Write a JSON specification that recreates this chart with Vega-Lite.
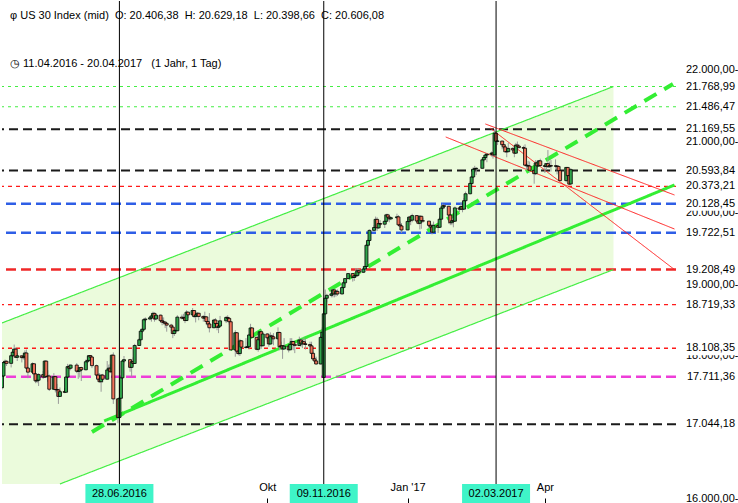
{
"$schema": "https://vega.github.io/schema/vega-lite/v6.json",
"width": 674, "height": 503,
"autosize": {"type": "pad"}, "padding": 0, "background": "white",
"config": {"view": {"stroke": null}, "font": "Liberation Sans", "scale": {"continuousPadding": 0}},
"title": {"text": "\u03c6 US 30 Index (mid) \u00a0O: 20.406,38 \u00a0H: 20.629,18 \u00a0L: 20.398,66 \u00a0C: 20.606,08", "subtitle": "\u25f7 11.04.2016 - 20.04.2017 \u00a0 (1 Jahr, 1 Tag)", "anchor": "start", "frame": "group", "orient": "top", "offset": -68, "fontSize": 11, "fontWeight": "normal", "color": "#000", "subtitleFontSize": 11, "subtitleColor": "#000", "subtitlePadding": 37, "dx": 8, "font": "Liberation Sans", "subtitleFont": "Liberation Sans"},
"datasets": {
"channel": [{"d":"2016-04-12","u":18462,"lo":16210},{"d":"2016-05-20","u":18775,"lo":16210},{"d":"2017-05-18","u":21768.99,"lo":19208.49}],
"trend": [
{"id":"cu","k":"ch","d":"2016-04-12","v":18462},{"id":"cu","k":"ch","d":"2017-05-18","v":21768.99},
{"id":"cl","k":"ch","d":"2016-05-20","v":16210},{"id":"cl","k":"ch","d":"2017-05-18","v":19208.49},
{"id":"gd","k":"gd","d":"2016-06-10","v":16937},{"id":"gd","k":"gd","d":"2017-06-26","v":21804},
{"id":"gs","k":"gs","d":"2016-06-18","v":17091},{"id":"gs","k":"gs","d":"2017-06-27","v":20392},
{"id":"r1","k":"rl","d":"2017-02-23","v":21245},{"id":"r1","k":"rl","d":"2017-06-27","v":20252},
{"id":"r2","k":"rl","d":"2017-01-28","v":21063},{"id":"r2","k":"rl","d":"2017-06-27","v":19776},
{"id":"r3","k":"rl","d":"2017-02-26","v":21189},{"id":"r3","k":"rl","d":"2017-06-27","v":19208.49}],
"levels": [{"v":21768.99,"k":"lg","lab":"21.768,99"},{"v":21486.47,"k":"lg","lab":"21.486,47"},{"v":21169.55,"k":"bk","lab":"21.169,55"},{"v":20593.84,"k":"bk","lab":"20.593,84"},{"v":20373.21,"k":"rt","lab":"20.373,21"},{"v":20128.45,"k":"bl","lab":"20.128,45"},{"v":19722.51,"k":"bl","lab":"19.722,51"},{"v":19208.49,"k":"rk","lab":"19.208,49"},{"v":18719.33,"k":"rt","lab":"18.719,33"},{"v":18108.35,"k":"rt","lab":"18.108,35"},{"v":17711.36,"k":"mg","lab":"17.711,36"},{"v":17044.18,"k":"bk","lab":"17.044,18"}],
"markers": [{"d":"2016-06-28","lab":"28.06.2016"},{"d":"2016-11-09","lab":"09.11.2016"},{"d":"2017-03-02","lab":"02.03.2017"}],
"candles": [
{"d":"2016-04-11","o":17590,"h":17660,"l":17530,"c":17556},
{"d":"2016-04-12","o":17556,"h":17740,"l":17530,"c":17721},
{"d":"2016-04-13","o":17721,"h":17930,"l":17715,"c":17908},
{"d":"2016-04-14","o":17908,"h":17950,"l":17880,"c":17926},
{"d":"2016-04-15","o":17926,"h":17940,"l":17860,"c":17897},
{"d":"2016-04-18","o":17897,"h":18020,"l":17840,"c":18004},
{"d":"2016-04-19","o":18004,"h":18100,"l":17990,"c":18053},
{"d":"2016-04-20","o":18053,"h":18160,"l":18000,"c":18096},
{"d":"2016-04-21","o":18096,"h":18120,"l":17970,"c":17982},
{"d":"2016-04-22","o":17982,"h":18040,"l":17930,"c":18003},
{"d":"2016-04-25","o":18003,"h":18010,"l":17910,"c":17977},
{"d":"2016-04-26","o":17977,"h":18030,"l":17950,"c":17991},
{"d":"2016-04-27","o":17991,"h":18080,"l":17950,"c":18042},
{"d":"2016-04-28","o":18042,"h":18090,"l":17820,"c":17831},
{"d":"2016-04-29","o":17831,"h":17850,"l":17690,"c":17774},
{"d":"2016-05-02","o":17774,"h":17910,"l":17760,"c":17891},
{"d":"2016-05-03","o":17891,"h":17895,"l":17670,"c":17750},
{"d":"2016-05-04","o":17750,"h":17760,"l":17620,"c":17651},
{"d":"2016-05-05","o":17651,"h":17740,"l":17620,"c":17661},
{"d":"2016-05-06","o":17661,"h":17760,"l":17580,"c":17740},
{"d":"2016-05-09","o":17740,"h":17790,"l":17680,"c":17705},
{"d":"2016-05-10","o":17705,"h":17940,"l":17700,"c":17928},
{"d":"2016-05-11","o":17928,"h":17940,"l":17700,"c":17711},
{"d":"2016-05-12","o":17711,"h":17800,"l":17640,"c":17720},
{"d":"2016-05-13","o":17720,"h":17740,"l":17510,"c":17535},
{"d":"2016-05-16","o":17535,"h":17760,"l":17530,"c":17711},
{"d":"2016-05-17","o":17711,"h":17720,"l":17490,"c":17530},
{"d":"2016-05-18","o":17530,"h":17610,"l":17430,"c":17526},
{"d":"2016-05-19","o":17526,"h":17540,"l":17330,"c":17435},
{"d":"2016-05-20","o":17435,"h":17560,"l":17430,"c":17501},
{"d":"2016-05-23","o":17501,"h":17550,"l":17480,"c":17493},
{"d":"2016-05-24","o":17493,"h":17720,"l":17490,"c":17706},
{"d":"2016-05-25","o":17706,"h":17890,"l":17700,"c":17851},
{"d":"2016-05-26","o":17851,"h":17880,"l":17800,"c":17829},
{"d":"2016-05-27","o":17829,"h":17880,"l":17800,"c":17873},
{"d":"2016-05-31","o":17873,"h":17900,"l":17760,"c":17787},
{"d":"2016-06-01","o":17787,"h":17810,"l":17680,"c":17790},
{"d":"2016-06-02","o":17790,"h":17840,"l":17700,"c":17838},
{"d":"2016-06-03","o":17838,"h":17850,"l":17650,"c":17807},
{"d":"2016-06-06","o":17807,"h":17950,"l":17800,"c":17920},
{"d":"2016-06-07","o":17920,"h":18000,"l":17910,"c":17938},
{"d":"2016-06-08","o":17938,"h":18010,"l":17930,"c":18005},
{"d":"2016-06-09","o":18005,"h":18010,"l":17920,"c":17985},
{"d":"2016-06-10","o":17985,"h":17990,"l":17830,"c":17865},
{"d":"2016-06-13","o":17865,"h":17880,"l":17720,"c":17733},
{"d":"2016-06-14","o":17733,"h":17760,"l":17640,"c":17675},
{"d":"2016-06-15","o":17675,"h":17760,"l":17630,"c":17640},
{"d":"2016-06-16","o":17640,"h":17740,"l":17500,"c":17733},
{"d":"2016-06-17","o":17733,"h":17750,"l":17630,"c":17675},
{"d":"2016-06-20","o":17675,"h":17930,"l":17670,"c":17805},
{"d":"2016-06-21","o":17805,"h":17880,"l":17770,"c":17830},
{"d":"2016-06-22","o":17830,"h":17890,"l":17760,"c":17780},
{"d":"2016-06-23","o":17780,"h":18020,"l":17770,"c":18011},
{"d":"2016-06-24","o":18011,"h":18050,"l":17330,"c":17400},
{"d":"2016-06-27","o":17400,"h":17410,"l":17060,"c":17140},
{"d":"2016-06-28","o":17140,"h":17420,"l":17120,"c":17409},
{"d":"2016-06-29","o":17409,"h":17710,"l":17400,"c":17695},
{"d":"2016-06-30","o":17695,"h":17940,"l":17680,"c":17930},
{"d":"2016-07-01","o":17930,"h":18000,"l":17900,"c":17949},
{"d":"2016-07-05","o":17949,"h":17960,"l":17780,"c":17841},
{"d":"2016-07-06","o":17841,"h":17940,"l":17710,"c":17919},
{"d":"2016-07-07","o":17919,"h":17980,"l":17860,"c":17895},
{"d":"2016-07-08","o":17895,"h":18170,"l":17890,"c":18147},
{"d":"2016-07-11","o":18147,"h":18250,"l":18140,"c":18227},
{"d":"2016-07-12","o":18227,"h":18380,"l":18220,"c":18348},
{"d":"2016-07-13","o":18348,"h":18390,"l":18320,"c":18373},
{"d":"2016-07-14","o":18373,"h":18530,"l":18370,"c":18507},
{"d":"2016-07-15","o":18507,"h":18540,"l":18470,"c":18517},
{"d":"2016-07-18","o":18517,"h":18560,"l":18500,"c":18534},
{"d":"2016-07-19","o":18534,"h":18570,"l":18480,"c":18560},
{"d":"2016-07-20","o":18560,"h":18620,"l":18550,"c":18596},
{"d":"2016-07-21","o":18596,"h":18610,"l":18480,"c":18518},
{"d":"2016-07-22","o":18518,"h":18590,"l":18500,"c":18571},
{"d":"2016-07-25","o":18571,"h":18580,"l":18470,"c":18494},
{"d":"2016-07-26","o":18494,"h":18540,"l":18430,"c":18474},
{"d":"2016-07-27","o":18474,"h":18540,"l":18440,"c":18473},
{"d":"2016-07-28","o":18473,"h":18490,"l":18390,"c":18456},
{"d":"2016-07-29","o":18456,"h":18470,"l":18340,"c":18432},
{"d":"2016-08-01","o":18432,"h":18450,"l":18350,"c":18404},
{"d":"2016-08-02","o":18404,"h":18420,"l":18250,"c":18314},
{"d":"2016-08-03","o":18314,"h":18370,"l":18280,"c":18355},
{"d":"2016-08-04","o":18355,"h":18380,"l":18320,"c":18353},
{"d":"2016-08-05","o":18353,"h":18570,"l":18350,"c":18544},
{"d":"2016-08-08","o":18544,"h":18580,"l":18510,"c":18529},
{"d":"2016-08-09","o":18529,"h":18590,"l":18520,"c":18534},
{"d":"2016-08-10","o":18534,"h":18560,"l":18460,"c":18496},
{"d":"2016-08-11","o":18496,"h":18640,"l":18490,"c":18613},
{"d":"2016-08-12","o":18613,"h":18620,"l":18530,"c":18576},
{"d":"2016-08-15","o":18576,"h":18670,"l":18570,"c":18636},
{"d":"2016-08-16","o":18636,"h":18640,"l":18530,"c":18552},
{"d":"2016-08-17","o":18552,"h":18580,"l":18470,"c":18574},
{"d":"2016-08-18","o":18574,"h":18610,"l":18540,"c":18598},
{"d":"2016-08-19","o":18598,"h":18600,"l":18500,"c":18553},
{"d":"2016-08-22","o":18553,"h":18570,"l":18480,"c":18530},
{"d":"2016-08-23","o":18530,"h":18620,"l":18520,"c":18547},
{"d":"2016-08-24","o":18547,"h":18560,"l":18430,"c":18482},
{"d":"2016-08-25","o":18482,"h":18500,"l":18410,"c":18448},
{"d":"2016-08-26","o":18448,"h":18600,"l":18330,"c":18395},
{"d":"2016-08-29","o":18395,"h":18520,"l":18390,"c":18503},
{"d":"2016-08-30","o":18503,"h":18530,"l":18410,"c":18454},
{"d":"2016-08-31","o":18454,"h":18460,"l":18360,"c":18401},
{"d":"2016-09-01","o":18401,"h":18450,"l":18320,"c":18419},
{"d":"2016-09-02","o":18419,"h":18560,"l":18410,"c":18492},
{"d":"2016-09-06","o":18492,"h":18560,"l":18460,"c":18539},
{"d":"2016-09-07","o":18539,"h":18570,"l":18480,"c":18526},
{"d":"2016-09-08","o":18526,"h":18540,"l":18440,"c":18479},
{"d":"2016-09-09","o":18479,"h":18480,"l":18080,"c":18085},
{"d":"2016-09-12","o":18085,"h":18360,"l":17990,"c":18325},
{"d":"2016-09-13","o":18325,"h":18330,"l":18030,"c":18067},
{"d":"2016-09-14","o":18067,"h":18160,"l":18010,"c":18034},
{"d":"2016-09-15","o":18034,"h":18240,"l":18000,"c":18212},
{"d":"2016-09-16","o":18212,"h":18220,"l":18090,"c":18124},
{"d":"2016-09-19","o":18124,"h":18250,"l":18100,"c":18120},
{"d":"2016-09-20","o":18120,"h":18200,"l":18110,"c":18130},
{"d":"2016-09-21","o":18130,"h":18310,"l":18090,"c":18294},
{"d":"2016-09-22","o":18294,"h":18450,"l":18290,"c":18392},
{"d":"2016-09-23","o":18392,"h":18400,"l":18250,"c":18261},
{"d":"2016-09-26","o":18261,"h":18270,"l":18080,"c":18094},
{"d":"2016-09-27","o":18094,"h":18250,"l":18060,"c":18228},
{"d":"2016-09-28","o":18228,"h":18350,"l":18170,"c":18339},
{"d":"2016-09-29","o":18339,"h":18360,"l":18100,"c":18143},
{"d":"2016-09-30","o":18143,"h":18330,"l":18140,"c":18308},
{"d":"2016-10-03","o":18308,"h":18320,"l":18200,"c":18254},
{"d":"2016-10-04","o":18254,"h":18310,"l":18130,"c":18168},
{"d":"2016-10-05","o":18168,"h":18330,"l":18160,"c":18281},
{"d":"2016-10-06","o":18281,"h":18300,"l":18200,"c":18268},
{"d":"2016-10-07","o":18268,"h":18320,"l":18150,"c":18240},
{"d":"2016-10-10","o":18240,"h":18400,"l":18240,"c":18329},
{"d":"2016-10-11","o":18329,"h":18340,"l":18080,"c":18129},
{"d":"2016-10-12","o":18129,"h":18200,"l":18090,"c":18144},
{"d":"2016-10-13","o":18144,"h":18150,"l":17960,"c":18098},
{"d":"2016-10-14","o":18098,"h":18250,"l":18090,"c":18138},
{"d":"2016-10-17","o":18138,"h":18150,"l":18050,"c":18087},
{"d":"2016-10-18","o":18087,"h":18250,"l":18080,"c":18162},
{"d":"2016-10-19","o":18162,"h":18250,"l":18150,"c":18203},
{"d":"2016-10-20","o":18203,"h":18210,"l":18080,"c":18162},
{"d":"2016-10-21","o":18162,"h":18170,"l":18040,"c":18146},
{"d":"2016-10-24","o":18146,"h":18270,"l":18140,"c":18223},
{"d":"2016-10-25","o":18223,"h":18240,"l":18130,"c":18169},
{"d":"2016-10-26","o":18169,"h":18240,"l":18110,"c":18200},
{"d":"2016-10-27","o":18200,"h":18260,"l":18160,"c":18170},
{"d":"2016-10-28","o":18170,"h":18240,"l":18090,"c":18161},
{"d":"2016-10-31","o":18161,"h":18200,"l":18130,"c":18142},
{"d":"2016-11-01","o":18142,"h":18200,"l":17960,"c":18037},
{"d":"2016-11-02","o":18037,"h":18060,"l":17940,"c":17960},
{"d":"2016-11-03","o":17960,"h":18000,"l":17900,"c":17931},
{"d":"2016-11-04","o":17931,"h":17990,"l":17880,"c":17888},
{"d":"2016-11-07","o":17888,"h":18280,"l":17880,"c":18260},
{"d":"2016-11-08","o":18260,"h":18400,"l":18200,"c":18332},
{"d":"2016-11-09","o":17700,"h":18620,"l":17640,"c":18590},
{"d":"2016-11-10","o":18590,"h":18930,"l":18580,"c":18808},
{"d":"2016-11-11","o":18808,"h":18870,"l":18750,"c":18848},
{"d":"2016-11-14","o":18848,"h":18940,"l":18820,"c":18869},
{"d":"2016-11-15","o":18869,"h":18940,"l":18820,"c":18924},
{"d":"2016-11-16","o":18924,"h":18930,"l":18820,"c":18868},
{"d":"2016-11-17","o":18868,"h":18920,"l":18830,"c":18904},
{"d":"2016-11-18","o":18904,"h":18930,"l":18840,"c":18868},
{"d":"2016-11-21","o":18868,"h":18970,"l":18860,"c":18957},
{"d":"2016-11-22","o":18957,"h":19050,"l":18950,"c":19024},
{"d":"2016-11-23","o":19024,"h":19090,"l":18990,"c":19083},
{"d":"2016-11-25","o":19083,"h":19160,"l":19070,"c":19153},
{"d":"2016-11-28","o":19153,"h":19160,"l":19040,"c":19098},
{"d":"2016-11-29","o":19098,"h":19140,"l":19050,"c":19122},
{"d":"2016-11-30","o":19122,"h":19230,"l":19100,"c":19124},
{"d":"2016-12-01","o":19124,"h":19230,"l":19110,"c":19192},
{"d":"2016-12-02","o":19192,"h":19220,"l":19130,"c":19171},
{"d":"2016-12-05","o":19171,"h":19260,"l":19160,"c":19217},
{"d":"2016-12-06","o":19217,"h":19260,"l":19180,"c":19252},
{"d":"2016-12-07","o":19252,"h":19560,"l":19240,"c":19549},
{"d":"2016-12-08","o":19549,"h":19640,"l":19530,"c":19615},
{"d":"2016-12-09","o":19615,"h":19770,"l":19610,"c":19757},
{"d":"2016-12-12","o":19757,"h":19830,"l":19740,"c":19797},
{"d":"2016-12-13","o":19797,"h":19950,"l":19790,"c":19911},
{"d":"2016-12-14","o":19911,"h":19940,"l":19750,"c":19792},
{"d":"2016-12-15","o":19792,"h":19890,"l":19780,"c":19853},
{"d":"2016-12-16","o":19853,"h":19900,"l":19820,"c":19843},
{"d":"2016-12-19","o":19843,"h":19890,"l":19790,"c":19884},
{"d":"2016-12-20","o":19884,"h":19990,"l":19870,"c":19974},
{"d":"2016-12-21","o":19974,"h":19990,"l":19920,"c":19942},
{"d":"2016-12-22","o":19942,"h":19950,"l":19870,"c":19918},
{"d":"2016-12-23","o":19918,"h":19950,"l":19900,"c":19934},
{"d":"2016-12-27","o":19934,"h":19990,"l":19920,"c":19946},
{"d":"2016-12-28","o":19946,"h":19970,"l":19830,"c":19834},
{"d":"2016-12-29","o":19834,"h":19880,"l":19760,"c":19819},
{"d":"2016-12-30","o":19819,"h":19860,"l":19720,"c":19763},
{"d":"2017-01-03","o":19763,"h":19940,"l":19760,"c":19882},
{"d":"2017-01-04","o":19882,"h":19960,"l":19870,"c":19943},
{"d":"2017-01-05","o":19943,"h":19950,"l":19830,"c":19900},
{"d":"2017-01-06","o":19900,"h":19990,"l":19870,"c":19964},
{"d":"2017-01-09","o":19964,"h":19970,"l":19880,"c":19888},
{"d":"2017-01-10","o":19888,"h":19940,"l":19840,"c":19856},
{"d":"2017-01-11","o":19856,"h":19970,"l":19770,"c":19954},
{"d":"2017-01-12","o":19954,"h":19960,"l":19780,"c":19892},
{"d":"2017-01-13","o":19892,"h":19930,"l":19860,"c":19886},
{"d":"2017-01-17","o":19886,"h":19890,"l":19780,"c":19827},
{"d":"2017-01-18","o":19827,"h":19840,"l":19760,"c":19804},
{"d":"2017-01-19","o":19804,"h":19850,"l":19700,"c":19732},
{"d":"2017-01-20","o":19732,"h":19880,"l":19720,"c":19827},
{"d":"2017-01-23","o":19827,"h":19840,"l":19720,"c":19800},
{"d":"2017-01-24","o":19800,"h":19950,"l":19790,"c":19913},
{"d":"2017-01-25","o":19913,"h":20080,"l":19910,"c":20069},
{"d":"2017-01-26","o":20069,"h":20130,"l":20050,"c":20101},
{"d":"2017-01-27","o":20101,"h":20120,"l":20060,"c":20094},
{"d":"2017-01-30","o":20094,"h":20100,"l":19850,"c":19971},
{"d":"2017-01-31","o":19971,"h":19980,"l":19830,"c":19864},
{"d":"2017-02-01","o":19864,"h":19960,"l":19830,"c":19891},
{"d":"2017-02-02","o":19891,"h":19920,"l":19800,"c":19885},
{"d":"2017-02-03","o":19885,"h":20090,"l":19880,"c":20071},
{"d":"2017-02-06","o":20071,"h":20080,"l":20010,"c":20053},
{"d":"2017-02-07","o":20053,"h":20150,"l":20040,"c":20090},
{"d":"2017-02-08","o":20090,"h":20100,"l":20010,"c":20054},
{"d":"2017-02-09","o":20054,"h":20210,"l":20050,"c":20172},
{"d":"2017-02-10","o":20172,"h":20300,"l":20160,"c":20269},
{"d":"2017-02-13","o":20269,"h":20440,"l":20260,"c":20413},
{"d":"2017-02-14","o":20413,"h":20510,"l":20360,"c":20504},
{"d":"2017-02-15","o":20504,"h":20640,"l":20490,"c":20612},
{"d":"2017-02-16","o":20612,"h":20660,"l":20560,"c":20620},
{"d":"2017-02-17","o":20620,"h":20640,"l":20530,"c":20625},
{"d":"2017-02-21","o":20625,"h":20760,"l":20620,"c":20744},
{"d":"2017-02-22","o":20744,"h":20790,"l":20720,"c":20776},
{"d":"2017-02-23","o":20776,"h":20840,"l":20760,"c":20811},
{"d":"2017-02-24","o":20811,"h":20830,"l":20710,"c":20822},
{"d":"2017-02-27","o":20822,"h":20860,"l":20790,"c":20838},
{"d":"2017-02-28","o":20838,"h":20850,"l":20760,"c":20812},
{"d":"2017-03-01","o":20812,"h":21170,"l":20800,"c":21116},
{"d":"2017-03-02","o":21116,"h":21130,"l":20990,"c":21003},
{"d":"2017-03-03","o":21003,"h":21020,"l":20950,"c":21006},
{"d":"2017-03-06","o":21006,"h":21010,"l":20890,"c":20955},
{"d":"2017-03-07","o":20955,"h":20970,"l":20900,"c":20924},
{"d":"2017-03-08","o":20924,"h":20960,"l":20850,"c":20856},
{"d":"2017-03-09","o":20856,"h":20900,"l":20780,"c":20858},
{"d":"2017-03-10","o":20858,"h":20980,"l":20850,"c":20903},
{"d":"2017-03-13","o":20903,"h":20920,"l":20850,"c":20882},
{"d":"2017-03-14","o":20882,"h":20890,"l":20780,"c":20837},
{"d":"2017-03-15","o":20837,"h":20980,"l":20830,"c":20950},
{"d":"2017-03-16","o":20950,"h":21000,"l":20900,"c":20934},
{"d":"2017-03-17","o":20934,"h":20960,"l":20900,"c":20915},
{"d":"2017-03-20","o":20915,"h":20940,"l":20860,"c":20906},
{"d":"2017-03-21","o":20906,"h":20960,"l":20650,"c":20669},
{"d":"2017-03-22","o":20669,"h":20700,"l":20600,"c":20661},
{"d":"2017-03-23","o":20661,"h":20730,"l":20620,"c":20657},
{"d":"2017-03-24","o":20657,"h":20720,"l":20570,"c":20597},
{"d":"2017-03-27","o":20597,"h":20610,"l":20410,"c":20550},
{"d":"2017-03-28","o":20550,"h":20740,"l":20530,"c":20701},
{"d":"2017-03-29","o":20701,"h":20720,"l":20640,"c":20659},
{"d":"2017-03-30","o":20659,"h":20740,"l":20650,"c":20729},
{"d":"2017-03-31","o":20729,"h":20760,"l":20650,"c":20663},
{"d":"2017-04-03","o":20663,"h":20700,"l":20560,"c":20651},
{"d":"2017-04-04","o":20651,"h":20700,"l":20600,"c":20690},
{"d":"2017-04-05","o":20690,"h":20880,"l":20630,"c":20648},
{"d":"2017-04-06","o":20648,"h":20720,"l":20630,"c":20663},
{"d":"2017-04-07","o":20663,"h":20740,"l":20580,"c":20656},
{"d":"2017-04-10","o":20656,"h":20750,"l":20620,"c":20658},
{"d":"2017-04-11","o":20658,"h":20670,"l":20540,"c":20651},
{"d":"2017-04-12","o":20651,"h":20660,"l":20560,"c":20592},
{"d":"2017-04-13","o":20592,"h":20600,"l":20450,"c":20453},
{"d":"2017-04-17","o":20453,"h":20640,"l":20430,"c":20637},
{"d":"2017-04-18","o":20637,"h":20640,"l":20480,"c":20523},
{"d":"2017-04-19","o":20523,"h":20620,"l":20390,"c":20404},
{"d":"2017-04-20","o":20406.38,"h":20629.18,"l":20398.66,"c":20606.08}
]},
"layer": [
{"data": {"name": "channel"},
 "mark": {"type": "area", "color": "#ebfbdc", "opacity": 1},
 "encoding": {
  "x": {"field": "d", "type": "temporal",
        "scale": {"domain": [{"year": 2016, "month": 4, "date": 12, "utc": true}, {"year": 2017, "month": 6, "date": 28, "utc": true}], "padding": 0},
        "axis": {"values": [{"year": 2016, "month": 10, "date": 3, "utc": true}, {"year": 2017, "month": 1, "date": 3, "utc": true}, {"year": 2017, "month": 4, "date": 3, "utc": true}],
                 "labelExpr": "utcmonth(datum.value) == 9 ? 'Okt' : (utcmonth(datum.value) == 0 ? \"Jan '17\" : 'Apr')",
                 "title": null, "domain": false, "grid": false, "ticks": true, "tickSize": -6, "tickColor": "#000", "tickWidth": 1,
                 "labelPadding": -17, "labelFontSize": 11, "labelColor": "#000", "labelFont": "Liberation Sans", "labelBaseline": "top", "labelFlush": false, "labelOverlap": false}},
  "y": {"field": "u", "type": "quantitative",
        "scale": {"domain": [15930, 22965], "zero": false, "nice": false, "padding": 0},
        "axis": {"orient": "right", "values": [22000, 21000, 20000, 19000, 18000, 16000], "zindex": 0,
                 "tickCount": 100,
                 "labelExpr": "replace(replace(replace(format(datum.value, ',.2f'), ',', '#'), '.', ','), '#', '.') + '-'",
                 "title": null, "domain": false, "ticks": false, "grid": false, "labelAlign": "right", "labelPadding": 62,
                 "labelFontSize": 11, "labelColor": "#000", "labelFont": "Liberation Sans", "labelOverlap": false, "labelBaseline": "middle", "labelBound": false}},
  "y2": {"field": "lo"}
 }},
{"data": {"name": "levels"},
 "mark": {"type": "rule"},
 "encoding": {
  "y": {"field": "v", "type": "quantitative", "scale": {"domain": [15930, 22965], "zero": false, "nice": false, "padding": 0}},
  "color": {"field": "k", "type": "nominal", "legend": null,
            "scale": {"domain": ["lg","bk","rt","bl","rk","mg","ch","gd","gs","rl"], "range": ["#44ee44","#1a1a1a","#ff1a1a","#2e5ee6","#f02828","#ee3ed8","#44ee44","#33ee33","#33ee33","#ff2020"]}},
  "strokeWidth": {"field": "k", "type": "ordinal", "legend": null,
            "scale": {"type": "ordinal", "domain": ["lg","bk","rt","bl","rk","mg","ch","gd","gs","rl"], "range": [1.1,2,1.3,2.5,2.5,2.5,1.2,4,3,1]}},
  "strokeDash": {"field": "k", "type": "nominal", "legend": null,
            "scale": {"domain": ["lg","bk","rt","bl","rk","mg","ch","gd","gs","rl"], "range": [[3,4],[9,5],[4,4],[10,5],[10,5],[10,5],[1,0],[14,9],[1,0],[1,0]]}}
 }},
{"data": {"name": "trend"},
 "mark": {"type": "line", "clip": true},
 "encoding": {
  "x": {"field": "d", "type": "temporal"},
  "y": {"field": "v", "type": "quantitative", "scale": {"domain": [15930, 22965], "zero": false, "nice": false, "padding": 0}},
  "detail": {"field": "id"},
  "color": {"field": "k", "type": "nominal", "legend": null,
            "scale": {"domain": ["lg","bk","rt","bl","rk","mg","ch","gd","gs","rl"], "range": ["#44ee44","#1a1a1a","#ff1a1a","#2e5ee6","#f02828","#ee3ed8","#44ee44","#33ee33","#33ee33","#ff2020"]}},
  "strokeWidth": {"field": "k", "type": "ordinal", "legend": null,
            "scale": {"type": "ordinal", "domain": ["lg","bk","rt","bl","rk","mg","ch","gd","gs","rl"], "range": [1.1,2,1.3,2.5,2.5,2.5,1.2,4,3,1]}},
  "strokeDash": {"field": "k", "type": "nominal", "legend": null,
            "scale": {"domain": ["lg","bk","rt","bl","rk","mg","ch","gd","gs","rl"], "range": [[3,4],[9,5],[4,4],[10,5],[10,5],[10,5],[1,0],[14,9],[1,0],[1,0]]}}
 }},
{"data": {"name": "candles"},
 "mark": {"type": "rule", "color": "#9a9a9a", "strokeWidth": 1, "clip": true},
 "encoding": {
  "x": {"field": "d", "type": "temporal"},
  "y": {"field": "l", "type": "quantitative", "scale": {"domain": [15930, 22965], "zero": false, "nice": false, "padding": 0}},
  "y2": {"field": "h"}
 }},
{"data": {"name": "candles"},
 "mark": {"type": "bar", "width": 3, "stroke": "#000", "strokeWidth": 0.8, "clip": true},
 "encoding": {
  "x": {"field": "d", "type": "temporal"},
  "y": {"field": "o", "type": "quantitative", "scale": {"domain": [15930, 22965], "zero": false, "nice": false, "padding": 0}},
  "y2": {"field": "c"},
  "fill": {"condition": {"test": "datum.c >= datum.o", "value": "#2fa44a"}, "value": "#f0735a"}
 }},
{"data": {"name": "markers"},
 "mark": {"type": "rule", "color": "#000", "strokeWidth": 1},
 "encoding": {
  "x": {"field": "d", "type": "temporal"}
 }},
{"data": {"name": "markers"},
 "mark": {"type": "bar", "width": 68, "color": "#3ff4c8"},
 "encoding": {
  "x": {"field": "d", "type": "temporal"},
  "y": {"datum": 15930, "type": "quantitative", "scale": {"domain": [15930, 22965], "zero": false, "nice": false, "padding": 0}},
  "y2": {"datum": 16210}
 }},
{"data": {"name": "markers"},
 "mark": {"type": "text", "fontSize": 11, "color": "#000", "baseline": "middle", "align": "center", "font": "Liberation Sans"},
 "encoding": {
  "x": {"field": "d", "type": "temporal"},
  "y": {"datum": 16070, "type": "quantitative", "scale": {"domain": [15930, 22965], "zero": false, "nice": false, "padding": 0}},
  "text": {"field": "lab"}
 }},
{"data": {"name": "levels"},
 "mark": {"type": "tick", "orient": "horizontal", "size": 56, "thickness": 14, "color": "white", "opacity": 1, "xOffset": 36},
 "encoding": {
  "x": {"datum": {"year": 2017, "month": 6, "date": 28, "utc": true}, "type": "temporal"},
  "y": {"field": "v", "type": "quantitative", "scale": {"domain": [15930, 22965], "zero": false, "nice": false, "padding": 0}}
 }},
{"data": {"name": "levels"},
 "mark": {"type": "text", "fontSize": 11, "color": "#000", "baseline": "middle", "align": "right", "dx": 59, "font": "Liberation Sans"},
 "encoding": {
  "x": {"datum": {"year": 2017, "month": 6, "date": 28, "utc": true}, "type": "temporal"},
  "y": {"field": "v", "type": "quantitative", "scale": {"domain": [15930, 22965], "zero": false, "nice": false, "padding": 0}},
  "text": {"field": "lab"}
 }}
]
}
